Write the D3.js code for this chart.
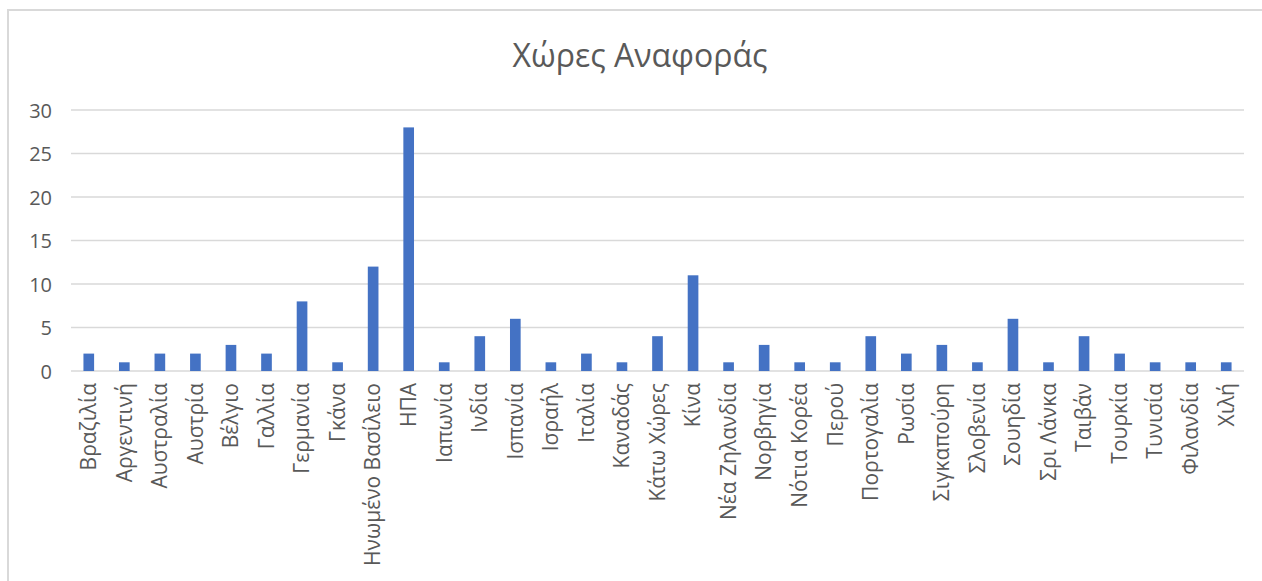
<!DOCTYPE html>
<html>
<head>
<meta charset="utf-8">
<script src="https://cdn.jsdelivr.net/npm/d3@7"></script>
<style>
  body { margin: 0; background: #fff; }
  text { font-family: "Open Sans", "Noto Sans", sans-serif; fill: #595959; }
</style>
</head>
<body>
<script>
// categories and counts
const countries = ["Βραζιλία", "Αργεντινή", "Αυστραλία", "Αυστρία", "Βέλγιο", "Γαλλία",
  "Γερμανία", "Γκάνα", "Ηνωμένο Βασίλειο", "ΗΠΑ", "Ιαπωνία", "Ινδία", "Ισπανία",
  "Ισραήλ", "Ιταλία", "Καναδάς", "Κάτω Χώρες", "Κίνα", "Νέα Ζηλανδία", "Νορβηγία",
  "Νότια Κορέα", "Περού", "Πορτογαλία", "Ρωσία", "Σιγκαπούρη", "Σλοβενία", "Σουηδία",
  "Σρι Λάνκα", "Ταιβάν", "Τουρκία", "Τυνισία", "Φιλανδία", "Χιλή"];
const counts = [2, 1, 2, 2, 3, 2, 8, 1, 12, 28, 1, 4, 6, 1, 2, 1, 4, 11, 1, 3, 1, 1,
  4, 2, 3, 1, 6, 1, 4, 2, 1, 1, 1];
const yTicks = [0, 5, 10, 15, 20, 25, 30];
const title = "Χώρες Αναφοράς";

const width = 1262, height = 581;
const margin = {top: 110, right: 18, bottom: 210, left: 71};

const svg = d3.select("body").append("svg")
    .attr("width", width)
    .attr("height", height);

// chart area border (runs off the right and bottom)
svg.append("rect")
    .attr("x", 8).attr("y", 10)
    .attr("width", width + 10).attr("height", height + 10)
    .attr("fill", "none")
    .attr("stroke", "#d9d9d9")
    .attr("stroke-width", 2);

// title
svg.append("text")
    .attr("x", 640).attr("y", 67)
    .attr("text-anchor", "middle")
    .style("font-size", "32px")
    .text(title);

// scales
const x = d3.scaleBand()
    .domain(countries)
    .range([margin.left, width - margin.right])
    .paddingInner(0.7)
    .paddingOuter(0.35);
const y = d3.scaleLinear()
    .domain([0, 30])
    .range([height - margin.bottom, margin.top]);

// gridlines
svg.append("g")
    .selectAll("line")
    .data(yTicks)
    .enter().append("line")
    .attr("x1", margin.left)
    .attr("x2", width - margin.right)
    .attr("y1", d => y(d))
    .attr("y2", d => y(d))
    .attr("stroke", "#d9d9d9")
    .attr("stroke-width", 1.5);

// y axis labels
const yAxis = d3.axisLeft(y).tickValues(yTicks).tickSize(0).tickPadding(0);
svg.append("g")
    .attr("transform", "translate(52,0)")
    .call(yAxis)
    .call(g => g.select(".domain").remove())
    .selectAll("text")
    .attr("font-family", null)
    .attr("dy", "0.35em")
    .style("font-size", "20px");

// bars
svg.append("g")
    .selectAll("rect")
    .data(countries)
    .enter().append("rect")
    .attr("x", d => x(d))
    .attr("width", x.bandwidth())
    .attr("y", (d, i) => y(counts[i]))
    .attr("height", (d, i) => y(0) - y(counts[i]))
    .attr("fill", "#4472c4");

// category labels, rotated
const xAxis = d3.axisBottom(x).tickSize(0).tickPadding(0);
svg.append("g")
    .attr("transform", "translate(0," + y(0) + ")")
    .call(xAxis)
    .call(g => g.select(".domain").remove())
    .selectAll("text")
    .attr("font-family", null)
    .style("font-size", "21px")
    .attr("text-anchor", "end")
    .attr("transform", "rotate(-90)")
    .attr("x", -12)
    .attr("y", 0)
    .attr("dy", "0.35em");
</script>
</body>
</html>
